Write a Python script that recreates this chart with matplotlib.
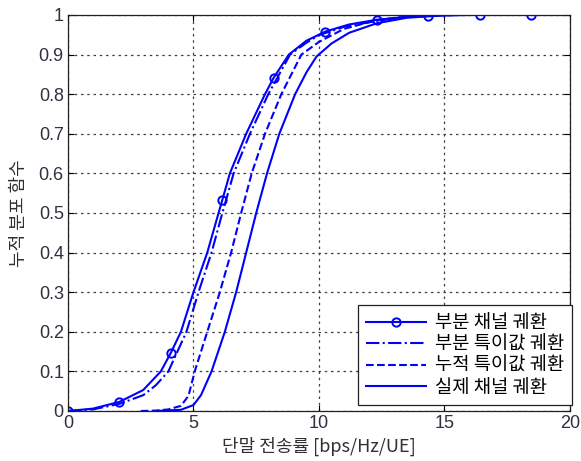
import matplotlib
matplotlib.use("Agg")
import matplotlib.pyplot as plt

plt.rcParams['font.family'] = ['Noto Sans CJK KR', 'DejaVu Sans']

# CDF curves of per-UE throughput [bps/Hz/UE]
x_partial = [0, 1.0, 2.05, 3.0, 3.7, 4.1, 4.5, 5.0, 5.55, 6.0, 6.15, 6.45, 7.1,
             7.85, 8.2, 8.8, 9.5, 10.25, 11.2, 12.3, 13.3, 14.35, 15.4, 16.4, 18.45, 20.0]
y_partial = [0, 0.006, 0.023, 0.053, 0.10, 0.147, 0.20, 0.30, 0.40, 0.50, 0.533, 0.60, 0.70,
             0.80, 0.842, 0.90, 0.935, 0.958, 0.976, 0.988, 0.994, 0.998, 1.0, 1.0, 1.0, 1.0]
marker_idx = [0, 2, 5, 10, 14, 17, 19, 21, 23, 24]

x_partial_sv = [0, 1.0, 2.05, 3.0, 3.5, 4.0, 4.72, 5.2, 5.72, 6.15, 6.6, 7.25, 7.98,
                8.85, 9.5, 10.0, 11.0, 12.3, 13.3, 14.4, 15.5]
y_partial_sv = [0, 0.004, 0.018, 0.04, 0.065, 0.10, 0.20, 0.30, 0.40, 0.50, 0.60, 0.70, 0.80,
                0.90, 0.93, 0.949, 0.97, 0.985, 0.994, 0.998, 1.0]

x_cum_sv = [2.9, 3.5, 4.0, 4.5, 4.8, 5.05, 5.3, 5.55, 5.8, 6.05, 6.5, 6.9, 7.32,
            7.85, 8.5, 9.3, 10.0, 11.0, 12.3, 13.5, 15.0]
y_cum_sv = [0, 0.001, 0.004, 0.013, 0.038, 0.10, 0.15, 0.20, 0.25, 0.30, 0.40, 0.50, 0.60,
            0.70, 0.80, 0.90, 0.932, 0.965, 0.987, 0.996, 1.0]

x_full = [3.5, 4.5, 5.0, 5.3, 5.72, 6.25, 6.7, 7.1, 7.5, 7.93, 8.42, 9.05, 9.5,
          9.9, 10.5, 11.2, 12.3, 13.5, 15.0, 16.0]
y_full = [0, 0.003, 0.015, 0.04, 0.10, 0.20, 0.30, 0.40, 0.50, 0.60, 0.70, 0.80, 0.855,
          0.895, 0.928, 0.955, 0.979, 0.993, 0.999, 1.0]

labels = ['부분 채널 궤환', '부분 특이값 궤환', '누적 특이값 궤환', '실제 채널 궤환']
xticks = [0, 5, 10, 15, 20]
yticks = [0, 0.1, 0.2, 0.3, 0.4, 0.5, 0.6, 0.7, 0.8, 0.9, 1]

fig = plt.figure(figsize=(5.81, 4.61), dpi=100)
ax = fig.add_axes([0.117, 0.1085, 0.864, 0.859])

blue = (0, 0, 1)
ax.plot(x_partial, y_partial, '-o', color=blue, lw=1.5, markevery=marker_idx,
        markersize=6, markerfacecolor='none', markeredgewidth=1.4, label=labels[0])
ax.plot(x_partial_sv, y_partial_sv, '-.', color=blue, lw=1.5, label=labels[1])
ax.plot(x_cum_sv, y_cum_sv, '--', color=blue, lw=1.5, label=labels[2])
ax.plot(x_full, y_full, '-', color=blue, lw=1.5, label=labels[3])

ax.set_xlim(0, 20)
ax.set_ylim(0, 1)
ax.set_xticks(xticks)
ax.set_yticks(yticks)
ax.set_yticklabels([f'{t:g}' for t in yticks])
ax.tick_params(direction='in', length=4, labelsize=13, labelcolor='#303040',
               top=True, right=True, pad=3)
for lab in ax.get_xticklabels() + ax.get_yticklabels():
    lab.set_family(['Liberation Sans', 'DejaVu Sans'])
ax.grid(True, linestyle=(0, (2, 3)), color='#404040', lw=0.9)
for s in ax.spines.values():
    s.set_color('#202020')
    s.set_linewidth(0.9)

ax.set_xlabel('단말 전송률 [bps/Hz/UE]', fontsize=13, color='#303030', labelpad=3)
ax.set_ylabel('누적 분포 함수', fontsize=13, color='#303030', labelpad=8)

leg = ax.legend(loc='lower right', bbox_to_anchor=(1.004, 0.015), borderaxespad=0,
                fontsize=13.5, fancybox=False, framealpha=1, edgecolor='#202020',
                handlelength=3.2, handletextpad=0.5, labelspacing=0.02,
                borderpad=0.4)
leg.get_frame().set_linewidth(0.9)

fig.savefig('out.png', dpi=100)
